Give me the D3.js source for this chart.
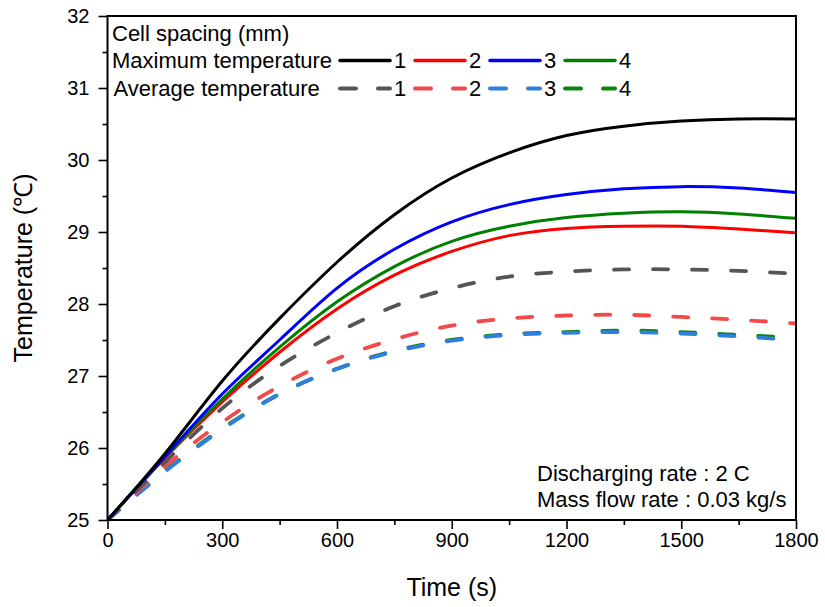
<!DOCTYPE html>
<html>
<head>
<meta charset="utf-8">
<script src="https://cdn.jsdelivr.net/npm/d3@7"></script>
<style>
  body { margin: 0; background: #fff; }
  svg text { font-family: "Liberation Sans", Arial, sans-serif; fill: #000; }
</style>
</head>
<body>
<svg id="chart"></svg>
<script>
// time axis (s)
const times = [0, 150, 300, 450, 600, 750, 900, 1050, 1200, 1350, 1500, 1650, 1800];

// maximum temperature, cell spacing 1..4 mm
const max1 = [25.0, 25.92, 26.93, 27.8, 28.58, 29.24, 29.75, 30.1, 30.34, 30.47, 30.54, 30.57, 30.57];
const max2 = [25.0, 25.86, 26.64, 27.33, 27.93, 28.4, 28.73, 28.95, 29.05, 29.08, 29.08, 29.04, 28.99];
const max3 = [25.0, 25.88, 26.75, 27.5, 28.22, 28.76, 29.14, 29.38, 29.52, 29.6, 29.63, 29.61, 29.55];
const max4 = [25.0, 25.87, 26.68, 27.4, 28.03, 28.52, 28.87, 29.08, 29.2, 29.26, 29.28, 29.25, 29.19];

// average temperature, cell spacing 1..4 mm
const avg1 = [25.0, 25.8, 26.55, 27.14, 27.6, 27.97, 28.22, 28.38, 28.45, 28.48, 28.48, 28.46, 28.42];
const avg2 = [25.0, 25.74, 26.36, 26.86, 27.24, 27.51, 27.7, 27.8, 27.84, 27.85, 27.82, 27.78, 27.73];
const avg3 = [25.0, 25.67, 26.26, 26.75, 27.1, 27.34, 27.49, 27.57, 27.6, 27.61, 27.59, 27.55, 27.5];
const avg4 = [25.0, 25.68, 26.27, 26.75, 27.1, 27.35, 27.5, 27.58, 27.61, 27.63, 27.61, 27.57, 27.53];

const spacings = ["1", "2", "3", "4"];
const xTicks = [0, 300, 600, 900, 1200, 1500, 1800];
const yTicks = [25, 26, 27, 28, 29, 30, 31, 32];

const maxSeries = [
  {name: "1", values: max1, color: "#000000"},
  {name: "2", values: max2, color: "#ff0000"},
  {name: "3", values: max3, color: "#0000ff"},
  {name: "4", values: max4, color: "#008000"}
];
const avgSeries = [
  {name: "1", values: avg1, color: "#555555"},
  {name: "2", values: avg2, color: "#f24a4a"},
  {name: "3", values: avg3, color: "#2f7fe0"},
  {name: "4", values: avg4, color: "#0b850b"}
];

const W = 825, H = 607;
const margin = {top: 16, right: 29, bottom: 87, left: 107.5};
const width = W - margin.left - margin.right;
const height = H - margin.top - margin.bottom;

const svg = d3.select("#chart").attr("width", W).attr("height", H);
const chart = svg.append("g").attr("transform", `translate(${margin.left},${margin.top})`);

const xScale = d3.scaleLinear().domain([0, 1800]).range([0, width]);
const yScale = d3.scaleLinear().domain([25, 32]).range([height, 0]);

// minor ticks
const xMinor = d3.range(150, 1800, 300);
const yMinor = d3.range(25.5, 32, 1);

chart.append("g")
  .attr("transform", `translate(0,${height})`)
  .call(d3.axisBottom(xScale).tickValues(xMinor).tickSize(5).tickFormat(""))
  .call(g => g.select(".domain").remove())
  .selectAll("line").attr("stroke-width", 1.6);
chart.append("g")
  .call(d3.axisLeft(yScale).tickValues(yMinor).tickSize(5).tickFormat(""))
  .call(g => g.select(".domain").remove())
  .selectAll("line").attr("stroke-width", 1.6);

// major ticks
const xAxisG = chart.append("g")
  .attr("transform", `translate(0,${height})`)
  .call(d3.axisBottom(xScale).tickValues(xTicks).tickSize(9).tickPadding(4).tickFormat(d3.format("d")));
xAxisG.select(".domain").remove();
xAxisG.selectAll("line").attr("stroke-width", 1.6);
xAxisG.selectAll("text").style("font-size", "20px").attr("fill", "#000");

const yAxisG = chart.append("g")
  .call(d3.axisLeft(yScale).tickValues(yTicks).tickSize(9).tickPadding(9).tickFormat(d3.format("d")));
yAxisG.select(".domain").remove();
yAxisG.selectAll("line").attr("stroke-width", 1.6);
yAxisG.selectAll("text").style("font-size", "20px").attr("fill", "#000");

// clip for curves
svg.append("clipPath").attr("id", "clip")
  .append("rect").attr("width", width).attr("height", height);

const line = d3.line()
  .x((d, i) => xScale(times[i]))
  .y(d => yScale(d))
  .curve(d3.curveNatural);

const plot = chart.append("g").attr("clip-path", "url(#clip)");

// average (dashed) lines drawn first
plot.selectAll(".avg")
  .data(avgSeries.slice().reverse())
  .join("path")
  .attr("class", "avg")
  .attr("d", d => line(d.values))
  .attr("fill", "none")
  .attr("stroke", d => d.color)
  .attr("stroke-width", 3.8)
  .attr("stroke-linecap", "round")
  .attr("stroke-dasharray", "15,24");

plot.selectAll(".max")
  .data([maxSeries[1], maxSeries[3], maxSeries[2], maxSeries[0]])
  .join("path")
  .attr("class", "max")
  .attr("d", d => line(d.values))
  .attr("fill", "none")
  .attr("stroke", d => d.color)
  .attr("stroke-width", 3);

// frame
chart.append("rect")
  .attr("width", width).attr("height", height)
  .attr("fill", "none").attr("stroke", "#000").attr("stroke-width", 2);

// axis titles
svg.append("text")
  .attr("x", margin.left + width / 2)
  .attr("y", 596)
  .attr("text-anchor", "middle")
  .style("font-size", "25px")
  .text("Time (s)");

svg.append("text")
  .attr("transform", `translate(32,${margin.top + height / 2}) rotate(-90)`)
  .attr("text-anchor", "middle")
  .style("font-size", "25px")
  .text("Temperature (℃)");

// legend
const legend = svg.append("g");
legend.append("text").attr("x", 112).attr("y", 41).style("font-size", "22px").text("Cell spacing (mm)");
legend.append("text").attr("x", 112).attr("y", 68).style("font-size", "22px").text("Maximum temperature");
legend.append("text").attr("x", 113.5).attr("y", 96).style("font-size", "22px").text("Average temperature");

const legX = d3.scaleBand().domain(spacings).range([339, 339 + 4 * 75]);
const rows = [
  {series: maxSeries, y: 60.5, dash: null, width: 3.5},
  {series: avgSeries, y: 88.5, dash: "16,22", width: 4}
];
rows.forEach(r => {
  const g = legend.append("g");
  g.selectAll("line")
    .data(r.series)
    .join("line")
    .attr("x1", d => legX(d.name) + 1)
    .attr("x2", d => legX(d.name) + 51)
    .attr("y1", r.y).attr("y2", r.y)
    .attr("stroke", d => d.color)
    .attr("stroke-width", r.width)
    .attr("stroke-linecap", "round")
    .attr("stroke-dasharray", r.dash);
  g.selectAll("text")
    .data(r.series)
    .join("text")
    .attr("x", d => legX(d.name) + 55)
    .attr("y", r.y + 7.5)
    .style("font-size", "22px")
    .text(d => d.name);
});

// annotation
svg.append("text").attr("x", 537).attr("y", 481).style("font-size", "22px").text("Discharging rate : 2 C");
svg.append("text").attr("x", 537).attr("y", 507).style("font-size", "22px").text("Mass flow rate : 0.03 kg/s");
</script>
</body>
</html>
